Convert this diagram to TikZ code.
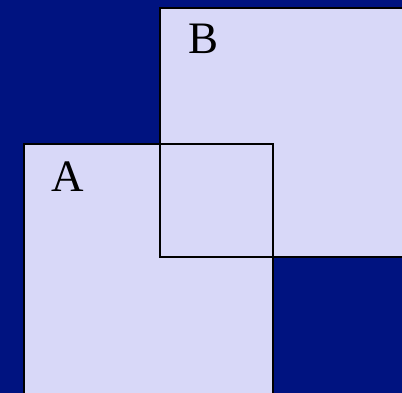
\documentclass[tikz,border=0pt]{standalone}
\usepackage{fontspec}
\setmainfont{Liberation Serif}
\definecolor{bgblue}{RGB}{0,19,128}
\definecolor{boxfill}{RGB}{216,216,248}
\begin{document}
\begin{tikzpicture}[x=1pt,y=-1pt,
  boxarea/.style={fill=boxfill,draw=none},
  boxline/.style={draw=black,line width=1.3pt},
  lbl/.style={inner sep=0pt,font=\fontsize{45}{45}\selectfont}]
\fill[bgblue] (0,0) rectangle (402,393);
\useasboundingbox (0,0) rectangle (402,393);
\path[boxarea] (160,8) rectangle (420,257);
\path[boxarea] (24,144) rectangle (273,410);
\draw[boxline] (160,8) rectangle (420,257);
\draw[boxline] (24,144) rectangle (273,410);
\node[lbl] (a) at (67.5,176.5) {A};
\node[lbl] (b) at (204,38.5) {B};
\end{tikzpicture}
\end{document}
